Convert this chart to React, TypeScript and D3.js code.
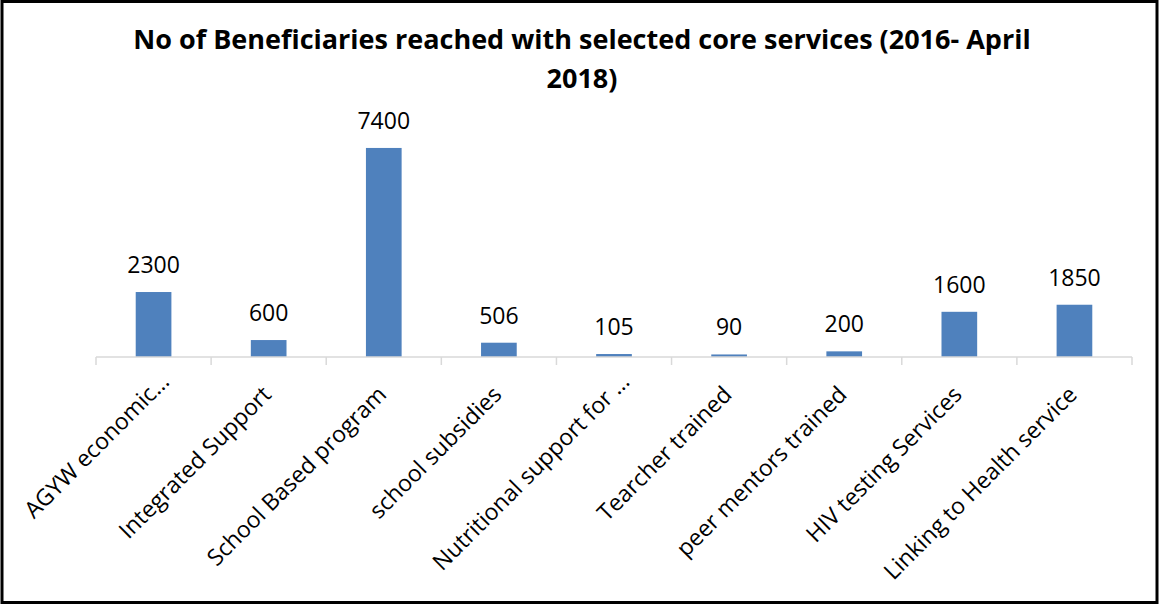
import React from "react";
import * as d3 from "d3";

const categories = [
  "AGYW economic…",
  "Integrated Support",
  "School Based program",
  "school subsidies",
  "Nutritional support for …",
  "Tearcher trained",
  "peer mentors trained",
  "HIV testing Services",
  "Linking to Health service",
];
const values = [2300, 600, 7400, 506, 105, 90, 200, 1600, 1850];
const titleLines = [
  "No of Beneficiaries reached with selected core services (2016- April",
  "2018)",
];

const W = 1161;
const H = 607;
const FONT = "'Open Sans', Carlito, Calibri, sans-serif";

export default function App() {
  const x = d3.scaleBand<string>().domain(categories).range([96, 1132]).paddingInner(0.69).paddingOuter(0.345);
  const step = x.step();
  const y = d3.scaleLinear().domain([0, 8000]).range([357, 131]);
  const baseY = y(0);
  const tickXs = d3.range(categories.length + 1).map((i) => 96 + i * step);

  return (
    <svg width={W} height={H} style={{ position: "absolute", left: 0, top: 0 }}>
      <rect x={0} y={0} width={W} height={H} fill="#fff" />
      <rect x={2} y={1.5} width={1155} height={601} fill="none" stroke="#000" strokeWidth={3} />
      {titleLines.map((t, i) => (
        <text
          key={i}
          x={582}
          y={49 + i * 39}
          textAnchor="middle"
          fontFamily={FONT}
          fontWeight="bold"
          fontSize={27}
          fill="#000"
        >
          {t}
        </text>
      ))}
      {categories.map((c, i) => (
        <rect
          key={c}
          x={x(c)}
          y={y(values[i])}
          width={x.bandwidth()}
          height={baseY - y(values[i])}
          fill="#4F81BD"
        />
      ))}
      <line x1={96} x2={1132} y1={baseY} y2={baseY} stroke="#D9D9D9" strokeWidth={1.5} />
      {tickXs.map((tx, i) => (
        <line key={i} x1={tx} x2={tx} y1={baseY} y2={baseY + 8} stroke="#D9D9D9" strokeWidth={1.5} />
      ))}
      {categories.map((c, i) => (
        <text
          key={"v" + c}
          x={(x(c) as number) + x.bandwidth() / 2}
          y={y(values[i]) - 19}
          textAnchor="middle"
          fontFamily={FONT}
          fontSize={23}
          fill="#000"
        >
          {values[i]}
        </text>
      ))}
      {categories.map((c) => {
        const shift = c.endsWith("…") ? 13 : 0;
        const cx = (x(c) as number) + x.bandwidth() / 2 + 4 + shift;
        const cy = baseY + 39 - shift;
        return (
          <text
            key={"l" + c}
            transform={`translate(${cx},${cy}) rotate(-45)`}
            textAnchor="end"
            fontFamily={FONT}
            fontSize={23}
            fill="#000"
          >
            {c}
          </text>
        );
      })}
    </svg>
  );
}
